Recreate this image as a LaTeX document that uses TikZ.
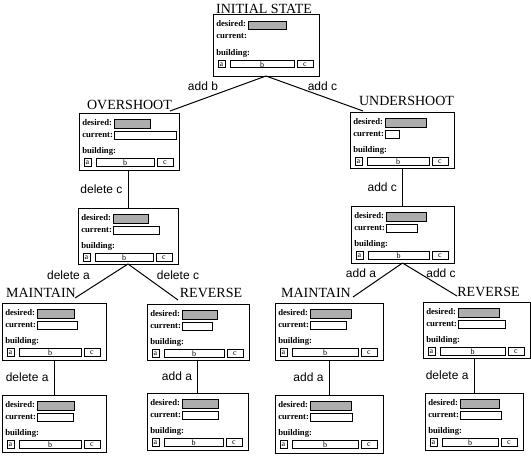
\documentclass[tikz,border=0pt]{standalone}
\usepackage{fontspec}
\setmainfont{Liberation Serif}
\newfontfamily\lblfont{Liberation Sans}
\usetikzlibrary{calc}
\tikzset{
  frame/.style={draw, line width=0.75pt, inner sep=0pt, outer sep=0pt, anchor=north west},
  ttl/.style={font=\fontsize{10.5}{12}\selectfont, inner sep=0pt, anchor=base},
  lbl/.style={font=\lblfont\fontsize{9}{10}\selectfont, inner sep=0pt},
  fld/.style={font=\bfseries\fontsize{6.5}{7}\selectfont, inner sep=0pt, anchor=base west},
  cellt/.style={font=\fontsize{6}{6}\selectfont, inner sep=0pt},
  cell/.style={draw, line width=0.75pt},
  hatch/.style={draw, line width=0.75pt, fill=black!32},
  link/.style={line width=0.75pt},
}
% name, L, T, W, H, current width (0 = none), desired width
\newcommand\statebox[7]{%
  \node[frame, minimum width=#4*0.75pt, minimum height=#5*0.75pt] (#1) at (#2,#3) {};
  \begin{scope}[shift={(#2,#3)}]
    \node[fld] (#1-des) at (3,12) {desired:};
    \draw[hatch] (35,6.5) rectangle (35+#7,15);
    \node[fld] (#1-cur) at (3,24) {current:};
    \ifnum#6>0 \draw[cell] (35,18.5) rectangle (35+#6,26.5);\fi
    \node[fld] (#1-bld) at (3,40.5) {building:};
    \draw[cell] (5,45.5) rectangle (12,53);
    \node[cellt] (#1-a) at (8.5,49.5) {a};
    \draw[cell] (17,45.5) rectangle (#4-25,53);
    \node[cellt] (#1-b) at ({(#4-8)/2},49.5) {b};
    \draw[cell] (#4-22,45.5) rectangle (#4-6,53);
    \node[cellt] (#1-c) at (#4-14,49.5) {c};
  \end{scope}}
\begin{document}
\begin{tikzpicture}[x=0.75pt,y=-0.75pt]
\useasboundingbox (0,0) rectangle (531,460);
% boxes
\statebox{init}{213}{15}{106}{61}{0}{38}
\statebox{over}{79}{113}{100}{57}{62}{36}
\statebox{under}{350}{112}{104}{56}{14}{41}
\statebox{overC}{78}{208}{100}{56}{46}{35}
\statebox{underC}{351}{206}{103}{57}{31}{40}
\statebox{mainL}{2}{303}{104}{57}{40}{37}
\statebox{revL}{147}{304}{102}{56}{30}{35}
\statebox{mainR}{275}{303}{108}{57}{36}{41}
\statebox{revR}{423}{302}{107}{56}{47}{41}
\statebox{botL}{2}{395}{104}{57}{36}{37}
\statebox{botB}{147}{393}{101}{57}{36}{36}
\statebox{botC}{275}{395}{108}{58}{42}{41}
\statebox{botD}{425}{393}{98}{57}{41}{39}
% titles
\node[ttl] (initT) at (264,14) {INITIAL STATE};
\node[ttl] (overT) at (129.5,109) {OVERSHOOT};
\node[ttl] (underT) at (406.5,105) {UNDERSHOOT};
\node[ttl] (mainLT) at (41,297) {MAINTAIN};
\node[ttl] (revLT) at (211,297) {REVERSE};
\node[ttl] (mainRT) at (316,297) {MAINTAIN};
\node[ttl] (revRT) at (488.5,296) {REVERSE};
% diagonal connectors
\draw[link] (init.south) -- ($(over.north west)+(91,-2)$);
\draw[link] (init.south) -- ($(under.north west)+(13,-1)$);
\draw[link] (overC.south) -- ($(mainL.north west)+(73,-5)$);
\draw[link] (overC.south) -- ($(revL.north west)+(31,-4)$);
\draw[link] (underC.south) -- ($(mainR.north west)+(78,-6)$);
\draw[link] (underC.south) -- ($(revR.north west)+(34,-6)$);
% diagonal labels
\node[lbl] (lab1) at (203,86) {add b};
\node[lbl] (lab2) at (322.5,86) {add c};
\node[lbl] (lab3) at (68.5,275) {delete a};
\node[lbl] (lab4) at (178,275) {delete c};
\node[lbl] (lab5) at (361,273) {add a};
\node[lbl] (lab6) at (441,273) {add c};
% vertical connectors
\draw[link] (overC.north) -- node[lbl, anchor=east, xshift=-3.75pt] (lab7) {delete c} (overC.north |- over.south);
\draw[link] (underC.north) -- node[lbl, anchor=east, xshift=-3.75pt] (lab8) {add c} (underC.north |- under.south);
\draw[link] (botL.north) -- node[lbl, anchor=east, xshift=-3.75pt] (lab9) {delete a} (botL.north |- mainL.south);
\draw[link] (botB.north) -- node[lbl, anchor=east, xshift=-3.75pt] (lab10) {add a} (botB.north |- revL.south);
\draw[link] (botC.north) -- node[lbl, anchor=east, xshift=-3.75pt] (lab11) {add a} (botC.north |- mainR.south);
\draw[link] (botD.north) -- node[lbl, anchor=east, xshift=-3.75pt] (lab12) {delete a} (botD.north |- revR.south);
\end{tikzpicture}
\end{document}
